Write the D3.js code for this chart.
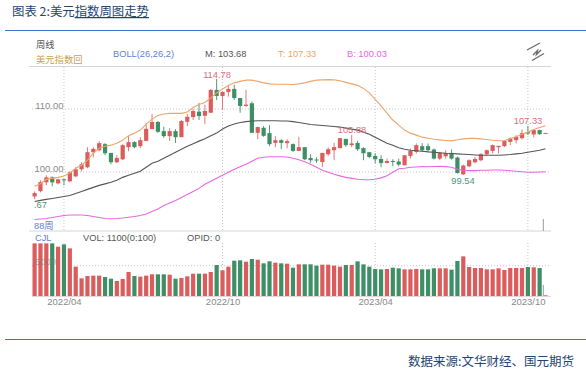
<!DOCTYPE html>
<html>
<head>
<meta charset="utf-8">
<script src="https://cdn.jsdelivr.net/npm/d3@7"></script>
<style>
  html, body { margin: 0; padding: 0; background: #fff; }
  svg { display: block; }
  text { font-family: "Liberation Sans", "Noto Sans CJK SC", sans-serif; }
  .cjk { font-family: "Noto Sans CJK SC", sans-serif; }
  .axis path, .axis line { display: none; }
</style>
</head>
<body>
<div id="chart"></div>
<script>
// Weekly candles (88 weeks)
const opens = [96.12,96.97,98.36,99.15,98.20,98.84,98.52,99.31,100.43,100.75,103.14,103.46,104.42,103.03,101.55,102.02,103.94,104.74,104.10,104.94,106.81,107.93,106.49,105.69,106.49,105.53,107.97,108.72,109.57,108.93,109.41,113.03,112.07,112.71,113.19,111.75,110.48,110.91,106.22,107.02,106.17,104.62,105.05,104.58,104.42,103.35,103.94,102.23,101.98,101.59,102.82,103.46,103.78,105.26,104.26,104.62,103.78,103.14,102.55,102.07,101.44,101.75,101.66,101.07,102.55,103.19,104.10,104.10,103.57,102.13,102.50,103.03,102.30,99.63,100.91,101.55,101.87,102.82,103.35,103.94,104.10,104.79,105.05,105.37,106.33,105.96,106.65,106.12];
const closes = [96.65,98.40,99.15,98.36,98.84,98.68,99.95,100.43,101.23,103.14,103.67,104.58,102.98,101.55,102.23,104.26,104.74,103.94,105.05,106.86,107.93,106.38,105.69,106.49,105.53,108.09,108.77,109.68,108.88,109.68,113.03,112.07,112.71,113.19,111.75,110.48,110.69,106.22,107.13,105.74,104.42,105.05,104.62,104.90,103.35,103.94,102.02,101.87,101.82,103.03,103.62,103.94,105.37,104.26,104.53,103.62,102.98,102.39,102.02,101.44,101.75,101.59,101.18,102.66,103.35,104.26,103.46,103.46,102.13,103.03,103.03,102.13,99.84,101.02,101.87,102.07,102.82,103.46,104.26,104.15,104.94,105.26,105.58,106.17,106.12,106.65,106.01,106.20];
const lows = [95.67,96.76,97.88,97.72,98.04,97.88,98.36,99.15,100.11,100.59,102.34,103.30,102.66,101.23,101.39,101.87,103.30,103.78,103.78,104.90,106.81,106.17,105.42,104.94,104.62,105.53,107.29,108.25,108.25,107.61,109.41,111.44,109.84,111.96,111.44,109.41,110.37,106.22,105.21,105.58,104.10,103.94,103.62,103.78,103.19,103.35,101.87,101.44,101.44,100.75,102.55,101.87,103.78,103.99,103.94,103.35,101.87,102.18,101.39,100.75,101.34,100.91,100.91,101.07,102.13,102.94,103.19,103.19,101.98,101.87,102.13,101.98,99.74,99.54,100.75,101.34,101.71,102.66,102.94,102.94,103.94,104.26,104.53,105.17,105.85,105.49,105.90,106.12];
const highs = [96.92,98.68,99.47,99.31,98.92,98.92,100.11,100.75,101.55,103.94,103.94,104.90,104.58,103.03,102.66,104.42,105.69,104.90,105.53,107.77,109.20,108.09,107.18,106.96,106.81,108.25,109.20,110.00,110.96,110.69,113.19,114.78,112.71,113.83,113.83,111.75,113.03,111.17,107.18,107.29,107.45,105.69,105.21,105.21,104.53,105.58,103.94,102.82,102.34,103.03,103.89,104.62,105.37,105.26,105.88,104.94,103.94,103.19,102.98,102.66,102.13,102.02,102.13,102.66,103.73,104.53,104.58,104.53,103.73,103.19,103.46,103.57,102.45,101.18,102.02,102.39,102.98,103.57,104.37,104.15,105.05,105.49,105.85,106.76,107.33,106.76,106.70,106.20];

// BOLL(26,26,2)
const bollUpper = [97.72,98.15,98.83,98.99,99.15,99.36,99.84,100.59,101.07,101.87,102.98,103.78,104.10,104.26,104.58,105.05,105.77,106.17,106.65,107.61,108.40,108.96,109.20,109.31,109.31,109.31,109.52,110.24,110.72,111.04,111.75,112.55,113.19,113.72,114.15,114.39,114.58,114.58,114.39,114.15,113.99,113.94,113.94,113.94,113.88,113.99,114.15,114.39,114.58,114.63,114.67,114.63,114.47,114.23,113.99,113.75,113.27,112.55,111.51,110.48,109.36,108.25,107.45,106.65,106.17,105.85,105.53,105.37,105.21,105.10,105.01,104.94,105.13,105.26,105.33,105.33,105.26,105.17,105.05,104.97,104.97,105.30,105.58,106.01,106.33,106.73,107.05,107.33];
const bollMid = [95.33,95.49,95.65,95.80,95.96,96.12,96.28,96.60,96.92,97.24,97.56,97.88,98.12,98.36,98.68,99.15,99.47,99.79,100.11,100.75,101.39,101.71,102.18,102.66,103.14,103.62,104.10,104.50,104.90,105.29,105.77,106.17,106.81,107.29,107.61,107.85,108.00,108.09,108.13,108.13,108.13,108.13,108.09,108.09,108.00,107.85,107.69,107.53,107.45,107.37,107.29,107.21,107.13,106.97,106.81,106.65,106.33,106.01,105.53,105.05,104.58,104.26,103.86,103.62,103.46,103.38,103.30,103.19,103.14,103.06,102.98,102.93,102.87,102.82,102.77,102.71,102.66,102.66,102.66,102.66,102.71,102.77,102.87,102.98,103.14,103.30,103.46,103.68];
const bollLower = [92.45,92.53,92.61,92.77,92.93,93.09,93.17,93.17,93.17,93.09,92.93,92.77,92.61,92.57,92.61,92.69,92.82,92.93,93.09,93.33,93.73,94.13,94.69,95.09,95.49,95.96,96.44,96.92,97.40,98.04,98.52,99.00,99.47,99.95,100.43,100.83,101.23,101.71,102.18,102.34,102.42,102.42,102.42,102.39,102.18,101.94,101.62,101.23,100.75,100.27,99.95,99.63,99.39,99.15,98.99,98.84,98.76,98.76,98.84,99.07,99.39,99.95,100.51,100.59,100.75,100.80,100.86,100.83,100.88,100.91,100.86,100.75,100.43,100.27,100.22,100.22,100.27,100.27,100.32,100.32,100.27,100.19,100.11,100.03,99.95,99.95,100.00,100.03];

const volumes = [8650,8650,8650,8650,8106,8486,7834,4842,2938,3318,3373,3373,3155,2883,2502,2829,3971,3318,3210,3373,3590,3590,3590,3536,2883,2992,3264,3699,3699,3699,3971,5114,4243,4842,5821,5875,5658,6093,5984,5386,5712,5494,5386,5331,4678,5222,5222,5222,5005,5168,5168,5005,4842,5114,5114,5712,5222,4842,4461,4406,4461,4678,4570,4406,4406,4461,4406,4406,4570,4570,4570,4352,5766,6528,4787,4624,4624,4406,4406,4570,4298,4624,4624,4624,4787,4733,4624,163];

const priceTicks = [100, 110];
const volTicks = [5000];
const dateTicks = [5, 32, 58, 84];
const dateLabels = ["2022/04", "2022/10", "2023/04", "2023/10"];
const weeks = d3.range(opens.length);

const RED = "#db5c5c", GREEN = "#3e8f66", GRID = "#c4c4c4", GREY = "#8a8a8a", BLUE = "#5f7fd6";

const svg = d3.select("#chart").append("svg")
  .attr("width", 586)
  .attr("height", 373);

const x = d3.scaleLinear().domain([0, 87]).range([34.6, 545.5]);
const y = d3.scaleLinear().domain([100, 110]).range([172, 109]);
const yVol = d3.scaleLinear().domain([0, 5000]).range([296.3, 265.7]);

// Page furniture: title, rules, source
const title = svg.append("text")
  .attr("class", "cjk")
  .attr("x", 12)
  .attr("y", 16)
  .style("font-size", "12.4px")
  .style("fill", "#23446f");
title.append("tspan").text("图表 2:美元");
title.append("tspan").style("text-decoration", "underline").text("指数周图走势");

svg.selectAll(".rule")
  .data([30.5, 339.5])
  .join("line")
  .attr("class", "rule")
  .attr("x1", 5)
  .attr("x2", 586)
  .attr("y1", (d) => d)
  .attr("y2", (d) => d)
  .attr("stroke", "#3f72c4")
  .attr("stroke-width", 1);

svg.append("text")
  .attr("class", "cjk")
  .attr("x", 574)
  .attr("y", 366)
  .attr("text-anchor", "end")
  .style("font-size", "12.5px")
  .style("fill", "#23446f")
  .text("数据来源:文华财经、国元期货");

// Panel separators
svg.selectAll(".sep")
  .data([66.5, 231])
  .join("line")
  .attr("class", "sep")
  .attr("x1", 29)
  .attr("x2", 551)
  .attr("y1", (d) => d)
  .attr("y2", (d) => d)
  .attr("stroke", "#d6d6d6")
  .attr("stroke-width", 1.2);

// Dotted grid
svg.selectAll(".gridx")
  .data(dateTicks)
  .join("line")
  .attr("class", "gridx")
  .attr("x1", (d) => x(d))
  .attr("x2", (d) => x(d))
  .attr("y1", 67)
  .attr("y2", 231)
  .attr("stroke", GRID)
  .attr("stroke-dasharray", "1,2");

svg.selectAll(".gridxv")
  .data(dateTicks)
  .join("line")
  .attr("class", "gridxv")
  .attr("x1", (d) => x(d))
  .attr("x2", (d) => x(d))
  .attr("y1", 243)
  .attr("y2", 296)
  .attr("stroke", GRID)
  .attr("stroke-dasharray", "1,2");

svg.selectAll(".gridy")
  .data(priceTicks)
  .join("line")
  .attr("class", "gridy")
  .attr("x1", 32)
  .attr("x2", 550)
  .attr("y1", (d) => y(d))
  .attr("y2", (d) => y(d))
  .attr("stroke", GRID)
  .attr("stroke-dasharray", "1,2");

svg.selectAll(".gridyv")
  .data(volTicks)
  .join("line")
  .attr("class", "gridyv")
  .attr("x1", 32)
  .attr("x2", 550)
  .attr("y1", (d) => yVol(d))
  .attr("y2", (d) => yVol(d))
  .attr("stroke", GRID)
  .attr("stroke-dasharray", "1,2");

// Volume bars
svg.selectAll(".vol")
  .data(weeks)
  .join("rect")
  .attr("class", "vol")
  .attr("x", (i) => x(i) - 2.1)
  .attr("width", 4.2)
  .attr("y", (i) => yVol(volumes[i]))
  .attr("height", (i) => yVol(0) - yVol(volumes[i]))
  .attr("fill", (i) => (closes[i] >= opens[i] ? RED : GREEN));

svg.append("line")
  .attr("x1", 32)
  .attr("x2", 551)
  .attr("y1", yVol(0) + 0.3)
  .attr("y2", yVol(0) + 0.3)
  .attr("stroke", "#e2d6d6");

// Candles: wick then body
svg.selectAll(".wick")
  .data(weeks)
  .join("line")
  .attr("class", "wick")
  .attr("x1", (i) => x(i))
  .attr("x2", (i) => x(i))
  .attr("y1", (i) => y(highs[i]))
  .attr("y2", (i) => y(lows[i]))
  .attr("stroke", (i) => (closes[i] >= opens[i] ? "#e07878" : "#4f9a74"))
  .attr("stroke-width", 1);

svg.selectAll(".body")
  .data(weeks)
  .join("rect")
  .attr("class", "body")
  .attr("x", (i) => x(i) - 2.1)
  .attr("width", 4.2)
  .attr("y", (i) => y(Math.max(opens[i], closes[i])))
  .attr("height", (i) => Math.max(1, Math.abs(y(opens[i]) - y(closes[i]))))
  .attr("fill", (i) => (closes[i] >= opens[i] ? RED : GREEN));

// BOLL lines
const bollLine = d3.line()
  .x((d, i) => x(i))
  .y((d) => y(d));

[[bollUpper, "#eda56b"], [bollMid, "#555555"], [bollLower, "#e668e0"]].forEach(([values, colour]) => {
  svg.append("path")
    .attr("d", bollLine(values))
    .attr("fill", "none")
    .attr("stroke", colour)
    .attr("stroke-width", 1.1);
});

// Axes
svg.append("g")
  .attr("class", "axis")
  .attr("transform", "translate(63.5,0)")
  .call(d3.axisLeft(y).tickValues(priceTicks).tickFormat(d3.format(".2f")).tickSize(0).tickPadding(0))
  .selectAll("text")
  .attr("dy", "-0.1em")
  .style("font-size", "9.5px")
  .style("font-family", "Liberation Sans")
  .style("fill", GREY);

svg.append("g")
  .attr("class", "axis")
  .attr("transform", "translate(56,0)")
  .call(d3.axisLeft(yVol).tickValues(volTicks).tickFormat(d3.format("d")).tickSize(0).tickPadding(0))
  .selectAll("text")
  .attr("dy", "-0.15em")
  .style("font-size", "9.5px")
  .style("font-family", "Liberation Sans")
  .style("fill", "#777")
  .style("opacity", 0.55);

svg.append("g")
  .attr("class", "axis")
  .attr("transform", "translate(0,298)")
  .call(d3.axisBottom(x).tickValues(dateTicks).tickFormat((d, i) => dateLabels[i]).tickSize(0).tickPadding(0))
  .selectAll("text")
  .style("font-size", "9.5px")
  .style("font-family", "Liberation Sans")
  .style("fill", GREY);

// Header labels and price callouts
const labels = [
  ["周线", 36, 48, "#555555", "start"],
  ["美元指数回", 36, 63, "#c9a052", "start"],
  ["BOLL(26,26,2)", 113, 57, BLUE, "start"],
  ["M: 103.68", 205, 57, "#555555", "start"],
  ["T: 107.33", 278, 57, "#eda56b", "start"],
  ["B: 100.03", 347, 57, "#e668e0", "start"],
  ["114.78", 217, 78, "#d97078", "middle"],
  ["105.88", 352, 133, "#d97078", "middle"],
  ["107.33", 528, 124, "#d97078", "middle"],
  ["99.54", 463, 184, "#4a9672", "middle"],
  [".67", 34, 208, "#4a9672", "start"],
  ["88周", 34, 229, BLUE, "start"],
  ["CJL", 35, 241, BLUE, "start"],
  ["VOL: 1100(0:100)", 83, 241, "#555555", "start"],
  ["OPID: 0", 187, 241, "#555555", "start"]
];

svg.selectAll(".lbl")
  .data(labels)
  .join("text")
  .attr("class", "lbl")
  .attr("x", (d) => d[1])
  .attr("y", (d) => d[2])
  .attr("text-anchor", (d) => d[4])
  .style("font-size", "9.3px")
  .style("fill", (d) => d[3])
  .text((d) => d[0]);

// Last-bar markers near the right edge
[[219, 231], [285, 296]].forEach(([a, b]) => {
  svg.append("line")
    .attr("x1", 543.3)
    .attr("x2", 543.3)
    .attr("y1", a)
    .attr("y2", b)
    .attr("stroke", "#999");
});

// Drawing tool icon
["M527,50L540,43", "M532,60.5L544,53.5", "M533,55L537.5,50.5L536.5,54.5L541,50"].forEach((d) => {
  svg.append("path")
    .attr("d", d)
    .attr("fill", "none")
    .attr("stroke", "#6e6e6e")
    .attr("stroke-width", 1.4);
});
</script>
</body>
</html>
